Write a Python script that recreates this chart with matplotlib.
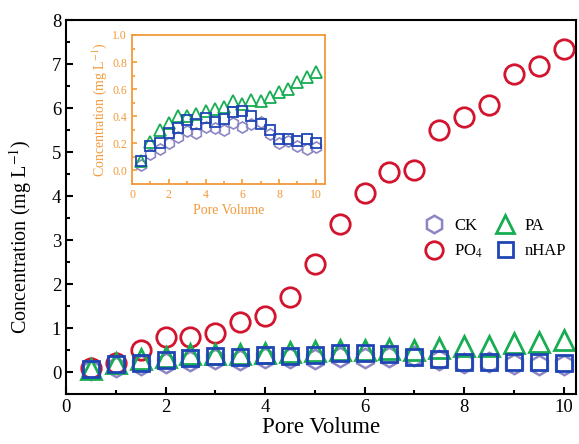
import matplotlib
matplotlib.use('Agg')
import matplotlib.pyplot as plt
from matplotlib.ticker import MultipleLocator

plt.rcParams['font.family'] = ['Liberation Serif', 'DejaVu Serif']
plt.rcParams['mathtext.fontset'] = 'stix'

pv = [0.5, 1.0, 1.5, 2.0, 2.5, 3.0, 3.5, 4.0, 4.5, 5.0,
      5.5, 6.0, 6.5, 7.0, 7.5, 8.0, 8.5, 9.0, 9.5, 10.0]
ck = [0.04, 0.12, 0.16, 0.20, 0.25, 0.29, 0.28, 0.32, 0.31, 0.30,
      0.35, 0.32, 0.34, 0.36, 0.27, 0.20, 0.22, 0.18, 0.16, 0.17]
po4 = [0.10, 0.20, 0.50, 0.80, 0.80, 0.89, 1.14, 1.27, 1.70, 2.45,
       3.36, 4.07, 4.55, 4.59, 5.50, 5.80, 6.07, 6.77, 6.95, 7.34]
pa = [0.07, 0.21, 0.30, 0.35, 0.40, 0.40, 0.42, 0.44, 0.45, 0.47,
      0.51, 0.49, 0.52, 0.51, 0.54, 0.58, 0.60, 0.65, 0.69, 0.73]
nhap = [0.07, 0.18, 0.20, 0.28, 0.31, 0.37, 0.34, 0.39, 0.36, 0.38,
        0.43, 0.44, 0.40, 0.34, 0.30, 0.23, 0.23, 0.22, 0.23, 0.20]

c_ck = '#8c86c4'
c_po4 = '#d2142e'
c_pa = '#17ad52'
c_nhap = '#1f45b4'
orange = '#f39a3a'

fig = plt.figure(figsize=(5.79, 4.44), dpi=100)
ax = fig.add_axes([66 / 579, 50 / 444, 510 / 579, 374 / 444])

ax.plot(pv, ck, 'h', ms=14, mfc='none', mec=c_ck, mew=1.8, label='CK')
ax.plot(pv, po4, 'o', ms=14, mfc='none', mec=c_po4, mew=2, label='PO$_4$')
ax.plot(pv, pa, '^', ms=15, mfc='none', mec=c_pa, mew=2, label='PA')
ax.plot(pv, nhap, 's', ms=12, mfc='none', mec=c_nhap, mew=2, label='nHAP')

ax.set_xlim(0, 10.25)
ax.set_ylim(-0.5, 8)
ax.xaxis.set_major_locator(MultipleLocator(2))
ax.xaxis.set_minor_locator(MultipleLocator(1))
ax.yaxis.set_major_locator(MultipleLocator(1))
ax.yaxis.set_minor_locator(MultipleLocator(0.5))
ax.tick_params(which='both', direction='in', top=False, right=False, labelsize=13.5, width=1.5)
ax.tick_params(which='major', length=5)
ax.tick_params(which='minor', length=3)
for s in ax.spines.values():
    s.set_linewidth(1.5)
ax.set_xlabel('Pore Volume', fontsize=16.5, labelpad=1)
ax.set_ylabel('Concentration (mg L$^{-1}$)', fontsize=14.5)
ax.yaxis.set_label_coords(-0.062, 0.42)

ax.legend(ncol=2, loc='center', bbox_to_anchor=(0.84, 0.415), frameon=False,
          fontsize=12, handlelength=1.4, handletextpad=0.5, columnspacing=0.6,
          labelspacing=0.55, markerscale=0.9)

# inset
ins = fig.add_axes([132 / 579, (444 - 184) / 444, 193 / 579, 149 / 444])
ins.plot(pv, ck, 'h', ms=8, mfc='none', mec=c_ck, mew=1.2)
ins.plot(pv, pa, '^', ms=9, mfc='none', mec=c_pa, mew=1.3)
ins.plot(pv, nhap, 's', ms=7.5, mfc='none', mec=c_nhap, mew=1.3)
ins.set_xlim(0, 10.5)
ins.set_ylim(-0.1, 1.0)
ins.xaxis.set_major_locator(MultipleLocator(2))
ins.xaxis.set_minor_locator(MultipleLocator(1))
ins.yaxis.set_major_locator(MultipleLocator(0.2))
ins.yaxis.set_minor_locator(MultipleLocator(0.1))
ins.tick_params(which='both', direction='in', top=False, right=False, labelsize=8.5,
                colors=orange, width=1.2)
ins.tick_params(which='major', length=3.5)
ins.tick_params(which='minor', length=2)
for s in ins.spines.values():
    s.set_color(orange)
    s.set_linewidth(1.3)
ins.set_xlabel('Pore Volume', fontsize=10, color=orange, labelpad=2)
ins.set_ylabel('Concentration (mg L$^{-1}$)', fontsize=10, color=orange, labelpad=2)

fig.savefig('out.png', dpi=100)
